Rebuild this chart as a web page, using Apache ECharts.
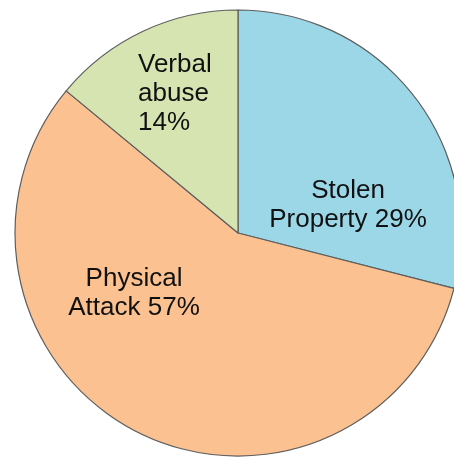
<!DOCTYPE html>
<html>
<head>
<meta charset="utf-8">
<script src="https://cdn.jsdelivr.net/npm/echarts@6/dist/echarts.min.js"></script>
<style>
  html, body { margin: 0; padding: 0; background: #ffffff; }
  #chart { width: 454px; height: 457px; }
</style>
</head>
<body>
<div id="chart"></div>
<script>
// Incident categories and their shares (percent)
const categories = ['Stolen\nProperty', 'Physical\nAttack', 'Verbal\nabuse'];
const shares = [29, 57, 14];
const sliceColors = ['#9BD7E7', '#FBC190', '#D6E4B2'];

// Label anchor points in pixels, one per slice
const labelSpots = [
  { x: 348, y: 205, align: 'center' },
  { x: 134, y: 293, align: 'center' },
  { x: 138, y: 94, align: 'left' }
];

const chart = echarts.init(document.getElementById('chart'), null, { renderer: 'canvas' });

const data = categories.map((name, i) => ({
  name: name,
  value: shares[i],
  itemStyle: { color: sliceColors[i] }
}));

chart.setOption({
  backgroundColor: '#ffffff',
  animation: false,
  series: [{
    type: 'pie',
    center: [238, 233],
    radius: 223,
    startAngle: 90,
    clockwise: true,
    data: data,
    itemStyle: {
      borderColor: '#5E5E5E',
      borderWidth: 1.2
    },
    label: {
      show: true,
      position: 'inside',
      // the small slice stacks its percentage on its own line
      formatter: p => p.name + (p.dataIndex === 2 ? '\n' : ' ') + p.value + '%',
      fontFamily: '"Liberation Sans", Arial, sans-serif',
      fontSize: 26,
      lineHeight: 29,
      color: '#111111'
    },
    labelLine: { show: false },
    labelLayout: function (params) {
      const s = labelSpots[params.dataIndex];
      return { x: s.x, y: s.y, align: s.align, verticalAlign: 'middle' };
    },
    emphasis: { disabled: true }
  }]
});
</script>
</body>
</html>
